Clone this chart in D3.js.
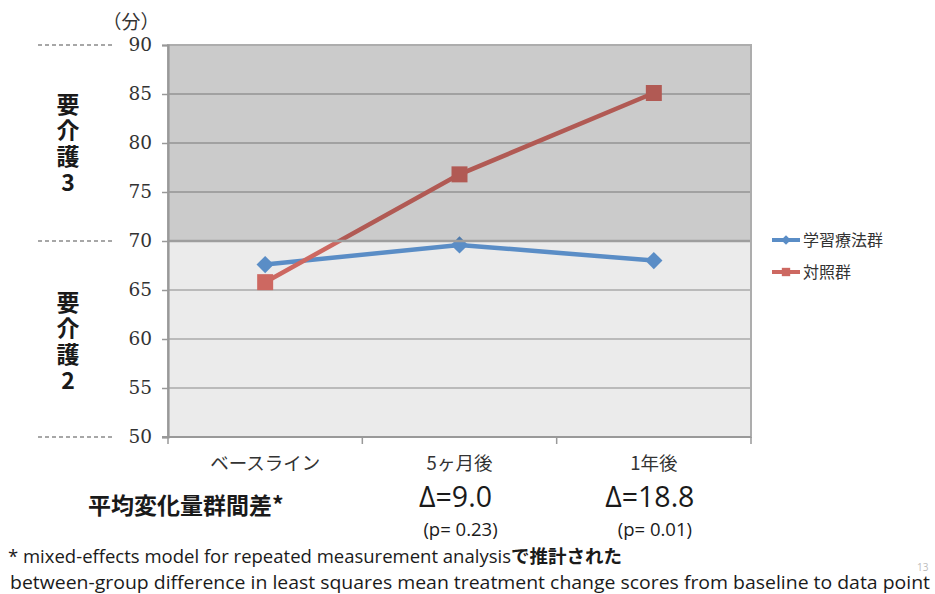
<!DOCTYPE html>
<html>
<head>
<meta charset="utf-8">
<script src="https://cdn.jsdelivr.net/npm/d3@7/dist/d3.min.js"></script>
<style>
  html, body { margin: 0; padding: 0; background: #fff; }
  svg { display: block; }
  .vlabel { writing-mode: vertical-rl; text-orientation: upright; }
</style>
</head>
<body>
<svg id="chart" width="935" height="594"></svg>
<script>
// Time points and mean scores (分) for each group
const categories = ["ベースライン", "5ヶ月後", "1年後"];
const learningTherapy = [67.6, 69.6, 68.0];   // 学習療法群
const controlGroup = [65.8, 76.8, 85.1];      // 対照群
const yTicks = [50, 55, 60, 65, 70, 75, 80, 85, 90];
const careLevelBoundaries = [50, 70, 90];
const deltaLabels = [null, "Δ=9.0", "Δ=18.8"];
const pLabels = [null, "(p= 0.23)", "(p= 0.01)"];

const series = [
  { name: "学習療法群", values: learningTherapy, color: "#5a8dc6", shape: "diamond" },
  { name: "対照群", values: controlGroup, color: "#cd6861", shape: "square" }
];

const svg = d3.select("#chart");
const plot = { left: 168, right: 751, top: 45, bottom: 437 };

const x = d3.scaleBand().domain(categories).range([plot.left, plot.right]);
const y = d3.scaleLinear().domain([50, 90]).range([plot.bottom, plot.top]);

// Plot background
svg.append("rect")
  .attr("x", plot.left).attr("y", plot.top)
  .attr("width", plot.right - plot.left).attr("height", plot.bottom - plot.top)
  .attr("fill", "#ebebeb");

// Horizontal gridlines
svg.append("g").selectAll("line")
  .data(yTicks.filter(d => d > 50 && d < 90))
  .join("line")
  .attr("x1", plot.left).attr("x2", plot.right)
  .attr("y1", d => y(d)).attr("y2", d => y(d))
  .attr("stroke", "#aaaaaa").attr("stroke-width", 1.6);

// Series lines and markers
const line = d3.line()
  .x((d, i) => x(categories[i]) + x.bandwidth() / 2)
  .y(d => y(d));

series.forEach(s => {
  svg.append("path")
    .datum(s.values)
    .attr("d", line)
    .attr("fill", "none")
    .attr("stroke", s.color)
    .attr("stroke-width", 4.5);
  const sym = s.shape === "square"
    ? d3.symbol().type(d3.symbolSquare).size(256)
    : d3.symbol().type(d3.symbolDiamond2).size(190);
  svg.append("g").selectAll("path")
    .data(s.values)
    .join("path")
    .attr("d", sym)
    .attr("transform", (d, i) => `translate(${x(categories[i]) + x.bandwidth() / 2},${y(d)})`)
    .attr("fill", s.color);
});

// Shaded 要介護3 band laid over the marks
svg.append("rect")
  .attr("x", plot.left).attr("y", y(90))
  .attr("width", plot.right - plot.left).attr("height", y(70) - y(90))
  .attr("fill", "rgba(0,0,0,0.135)");
svg.append("line")
  .attr("x1", plot.left).attr("x2", plot.right)
  .attr("y1", y(70)).attr("y2", y(70))
  .attr("stroke", "#9e9e9e").attr("stroke-width", 2.5);

// Plot frame
svg.append("rect")
  .attr("x", plot.left).attr("y", plot.top)
  .attr("width", plot.right - plot.left).attr("height", plot.bottom - plot.top)
  .attr("fill", "none").attr("stroke", "#adadad").attr("stroke-width", 2);

// Y axis
const yAxis = svg.append("g")
  .attr("transform", `translate(${plot.left},0)`)
  .call(d3.axisLeft(y).tickValues(yTicks).tickSize(6).tickPadding(10));
yAxis.select(".domain").attr("stroke", "#999").attr("stroke-width", 2.2);
yAxis.selectAll(".tick line").attr("stroke", "#999").attr("stroke-width", 1.5);
yAxis.selectAll(".tick text")
  .attr("font-family", "'DejaVu Serif', serif")
  .attr("font-size", 18.5)
  .attr("fill", "#333");

// X axis with ticks at category boundaries
const xAxisG = svg.append("g").attr("transform", `translate(0,${plot.bottom})`);
xAxisG.append("line")
  .attr("x1", plot.left - 6).attr("x2", plot.right)
  .attr("stroke", "#999").attr("stroke-width", 2);
xAxisG.selectAll("line.bt")
  .data(categories.concat([null]))
  .join("line").attr("class", "bt")
  .attr("x1", (d, i) => plot.left + i * x.step())
  .attr("x2", (d, i) => plot.left + i * x.step())
  .attr("y1", 0).attr("y2", 7)
  .attr("stroke", "#999").attr("stroke-width", 1.5);
xAxisG.selectAll("text.cat")
  .data(categories)
  .join("text").attr("class", "cat")
  .attr("x", d => x(d) + x.bandwidth() / 2)
  .attr("y", 33)
  .attr("text-anchor", "middle")
  .attr("font-family", "'Noto Sans CJK JP', sans-serif")
  .attr("font-size", 18.5)
  .attr("fill", "#333")
  .text(d => d);

// Unit label
svg.append("text")
  .attr("x", 131).attr("y", 29)
  .attr("text-anchor", "middle")
  .attr("font-family", "'Noto Sans CJK JP', sans-serif")
  .attr("font-size", 19)
  .attr("fill", "#333")
  .text("（分）");

// Dashed care-level boundary markers
svg.append("g").selectAll("line")
  .data(careLevelBoundaries)
  .join("line")
  .attr("x1", 38).attr("x2", 113)
  .attr("y1", d => y(d)).attr("y2", d => y(d))
  .attr("stroke", "#8a8a8a").attr("stroke-width", 1.5)
  .attr("stroke-dasharray", "4,3");

// Vertical care-level labels
const careLabels = [
  { text: "要介護3", mid: 79.8 },
  { text: "要介護2", mid: 59.6 }
];
svg.append("g").selectAll("text")
  .data(careLabels)
  .join("text")
  .attr("class", "vlabel")
  .attr("x", 68)
  .attr("y", d => y(d.mid))
  .attr("text-anchor", "middle")
  .attr("font-family", "'Noto Sans CJK JP', sans-serif")
  .attr("font-weight", 700)
  .attr("font-size", 23)
  .attr("letter-spacing", 3)
  .attr("fill", "#1a1a1a")
  .text(d => d.text);

// Legend
const legend = svg.append("g");
series.forEach((s, i) => {
  const ly = 240 + i * 32;
  legend.append("line")
    .attr("x1", 772).attr("x2", 800)
    .attr("y1", ly).attr("y2", ly)
    .attr("stroke", s.color).attr("stroke-width", 4);
  const sym = s.shape === "square"
    ? d3.symbol().type(d3.symbolSquare).size(70)
    : d3.symbol().type(d3.symbolDiamond2).size(60);
  legend.append("path")
    .attr("d", sym)
    .attr("transform", `translate(786,${ly})`)
    .attr("fill", s.color);
  legend.append("text")
    .attr("x", 803).attr("y", ly + 6)
    .attr("font-family", "'Noto Sans CJK JP', sans-serif")
    .attr("font-size", 16)
    .attr("fill", "#333")
    .text(s.name);
});

// Mean change difference row
svg.append("text")
  .attr("x", 88).attr("y", 514)
  .attr("font-family", "'Noto Sans CJK JP', sans-serif")
  .attr("font-weight", 700)
  .attr("font-size", 23)
  .attr("fill", "#1a1a1a")
  .text("平均変化量群間差*");

svg.append("g").selectAll("text")
  .data(deltaLabels.map((d, i) => ({ d, i })).filter(o => o.d))
  .join("text")
  .attr("x", o => x(categories[o.i]) + x.bandwidth() / 2 - 4)
  .attr("y", 507)
  .attr("text-anchor", "middle")
  .attr("font-family", "'Open Sans', sans-serif")
  .attr("font-size", 28.5)
  .attr("fill", "#1a1a1a")
  .text(o => o.d);

svg.append("g").selectAll("text")
  .data(pLabels.map((d, i) => ({ d, i })).filter(o => o.d))
  .join("text")
  .attr("x", o => x(categories[o.i]) + x.bandwidth() / 2 + 1)
  .attr("y", 535.5)
  .attr("text-anchor", "middle")
  .attr("font-family", "'Open Sans', sans-serif")
  .attr("font-size", 18.5)
  .attr("fill", "#1a1a1a")
  .text(o => o.d);

// Footnote
const foot = svg.append("text")
  .attr("x", 8).attr("y", 563)
  .attr("font-family", "'Open Sans', sans-serif")
  .attr("font-size", 18.5)
  .attr("fill", "#1a1a1a");
foot.append("tspan").text("* mixed-effects model for repeated measurement analysis");
foot.append("tspan")
  .attr("font-family", "'Noto Sans CJK JP', sans-serif")
  .attr("font-weight", 700)
  .text("で推計された");

svg.append("text")
  .attr("x", 10).attr("y", 589)
  .attr("textLength", 920)
  .attr("lengthAdjust", "spacingAndGlyphs")
  .attr("font-family", "'Open Sans', sans-serif")
  .attr("font-size", 18.5)
  .attr("fill", "#1a1a1a")
  .text("between-group difference in least squares mean treatment change scores from baseline to data point");

// Slide number
svg.append("text")
  .attr("x", 917).attr("y", 571)
  .attr("font-family", "'Open Sans', sans-serif")
  .attr("font-size", 10)
  .attr("fill", "#bbb")
  .text("13");
</script>
</body>
</html>
